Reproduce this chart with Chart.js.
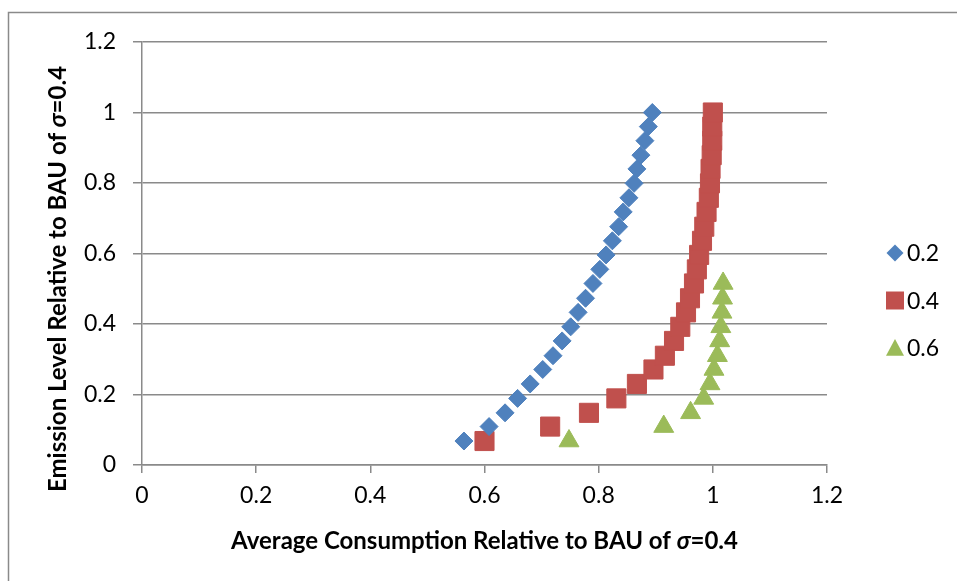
<!DOCTYPE html>
<html>
<head>
<meta charset="utf-8">
<script src="https://cdn.jsdelivr.net/npm/chart.js@4/dist/chart.umd.min.js"></script>
<style>
  html, body { margin: 0; padding: 0; background: #fff; }
  #wrap { width: 957px; height: 581px; }
</style>
</head>
<body>
<div id="wrap"><canvas id="chart" width="957" height="581"></canvas></div>
<script>
// sigma values of the three runs (legend) and their marker colours
const seriesNames = ['0.2', '0.4', '0.6'];
const seriesColors = ['#4F81BD', '#C0504D', '#9BBB59'];
const seriesShapes = ['rectRot', 'rect', 'triangle'];
const seriesRadius = [9, 13.5, 11.5];

// emission level (y), shared by all runs
const emission = [0.068, 0.109, 0.148, 0.189, 0.230, 0.271, 0.310, 0.352, 0.392, 0.433, 0.473, 0.515,
                  0.555, 0.596, 0.636, 0.676, 0.718, 0.758, 0.799, 0.840, 0.879, 0.920, 0.960, 1.000];

// average consumption (x) for each run
const consumption02 = [0.564, 0.608, 0.636, 0.658, 0.680, 0.702, 0.720, 0.736, 0.751, 0.764, 0.777, 0.790,
                       0.802, 0.813, 0.824, 0.835, 0.843, 0.853, 0.862, 0.867, 0.874, 0.881, 0.887, 0.894];
const consumption04 = [0.600, 0.715, 0.783, 0.831, 0.867, 0.896, 0.916, 0.932, 0.943, 0.953, 0.960, 0.967,
                       0.972, 0.976, 0.981, 0.985, 0.989, 0.993, 0.995, 0.996, 0.998, 0.999, 0.999, 1.000];
const consumption06 = [0.748, 0.914, 0.961, 0.984, 0.995, 1.002, 1.008, 1.012, 1.014, 1.016, 1.017, 1.018];

const axisTicks = [0, 0.2, 0.4, 0.6, 0.8, 1, 1.2];
const axisTickLabels = ['0', '0.2', '0.4', '0.6', '0.8', '1', '1.2'];

const xTitle = ['Average Consumption Relative to BAU of ', 'σ', '=0.4'];
const yTitle = ['Emission Level Relative to BAU of ', 'σ', '=0.4'];

const FONT = 'Lato, "Open Sans", sans-serif';
const GRID = '#8a8a8a';

const runs = [consumption02, consumption04, consumption06];

const datasets = runs.map((xs, i) => ({
    label: seriesNames[i],
    data: xs.map((x, j) => ({ x: x, y: emission[j] })),
    pointStyle: seriesShapes[i],
    pointRadius: seriesRadius[i],
    pointHoverRadius: seriesRadius[i],
    backgroundColor: seriesColors[i],
    borderColor: seriesColors[i],
    borderWidth: 1,
    showLine: false
}));

// draws a title made of plain / italic / plain bits, centred on (cx, cy)
const drawTitle = (ctx, parts, cx, cy, rotate) => {
    const bold = '700 24px ' + FONT;
    const ital = 'italic 700 24px ' + FONT;
    const fonts = [bold, ital, bold];
    let total = 0;
    const widths = parts.map((p, i) => {
        ctx.font = fonts[i];
        const w = ctx.measureText(p).width;
        total += w;
        return w;
    });
    ctx.save();
    ctx.translate(cx, cy);
    if (rotate) ctx.rotate(-Math.PI / 2);
    ctx.fillStyle = '#000';
    ctx.textBaseline = 'middle';
    ctx.textAlign = 'left';
    let x = -total / 2;
    parts.forEach((p, i) => {
        ctx.font = fonts[i];
        ctx.fillText(p, x, 0);
        x += widths[i];
    });
    ctx.restore();
};

const drawMarker = (ctx, shape, x, y, s) => {
    ctx.beginPath();
    if (shape === 'rectRot') {
        ctx.moveTo(x, y - s); ctx.lineTo(x + s, y); ctx.lineTo(x, y + s); ctx.lineTo(x - s, y);
    } else if (shape === 'rect') {
        ctx.rect(x - s, y - s, 2 * s, 2 * s);
    } else {
        ctx.moveTo(x, y - s); ctx.lineTo(x + s, y + s * 0.85); ctx.lineTo(x - s, y + s * 0.85);
    }
    ctx.closePath();
    ctx.fill();
};

const decor = {
    id: 'decor',
    beforeDraw(chart) {
        const ctx = chart.ctx;
        ctx.save();
        ctx.strokeStyle = GRID;
        ctx.lineWidth = 1.5;
        ctx.beginPath();
        ctx.moveTo(8.5, 581);
        ctx.lineTo(8.5, 12.5);
        ctx.lineTo(957, 12.5);
        ctx.stroke();
        ctx.restore();
    },
    afterDraw(chart) {
        const ctx = chart.ctx;
        const area = chart.chartArea;
        drawTitle(ctx, xTitle, (area.left + area.right) / 2, 541, false);
        drawTitle(ctx, yTitle, 58, 279, true);

        // legend
        const legendSize = [8.5, 9, 9];
        seriesNames.forEach((name, i) => {
            const y = 253 + i * 47.5;
            ctx.save();
            ctx.fillStyle = seriesColors[i];
            drawMarker(ctx, seriesShapes[i], 895, y, legendSize[i]);
            ctx.fillStyle = '#000';
            ctx.font = '23px ' + FONT;
            ctx.textBaseline = 'middle';
            ctx.textAlign = 'left';
            ctx.fillText(name, 907, y + 1);
            ctx.restore();
        });
    }
};

new Chart(document.getElementById('chart'), {
    type: 'scatter',
    data: { datasets: datasets },
    options: {
        responsive: false,
        animation: false,
        layout: { padding: { top: 42, right: 130, left: 0, bottom: 0 } },
        plugins: {
            legend: { display: false },
            tooltip: { enabled: false }
        },
        scales: {
            x: {
                type: 'linear',
                min: 0,
                max: 1.2,
                afterBuildTicks: (scale) => { scale.ticks = axisTicks.map(v => ({ value: v })); },
                afterFit: (scale) => { scale.height = 116; },
                grid: { drawOnChartArea: false, drawTicks: true, tickLength: 8, color: GRID, lineWidth: 1.5 },
                border: { display: true, color: GRID, width: 1.5 },
                ticks: {
                    color: '#000', font: { family: FONT, size: 23 }, padding: 9, maxRotation: 0,
                    callback: (v, i) => axisTickLabels[i]
                }
            },
            y: {
                type: 'linear',
                min: 0,
                max: 1.2,
                afterBuildTicks: (scale) => { scale.ticks = axisTicks.map(v => ({ value: v })); },
                afterFit: (scale) => { scale.width = 142; },
                grid: { drawTicks: true, tickLength: 9, color: GRID, lineWidth: 1.5 },
                border: { display: true, color: GRID, width: 1.5 },
                ticks: {
                    color: '#000', font: { family: FONT, size: 23 }, padding: 17,
                    callback: (v, i) => axisTickLabels[i]
                }
            }
        }
    },
    plugins: [decor]
});
</script>
</body>
</html>
